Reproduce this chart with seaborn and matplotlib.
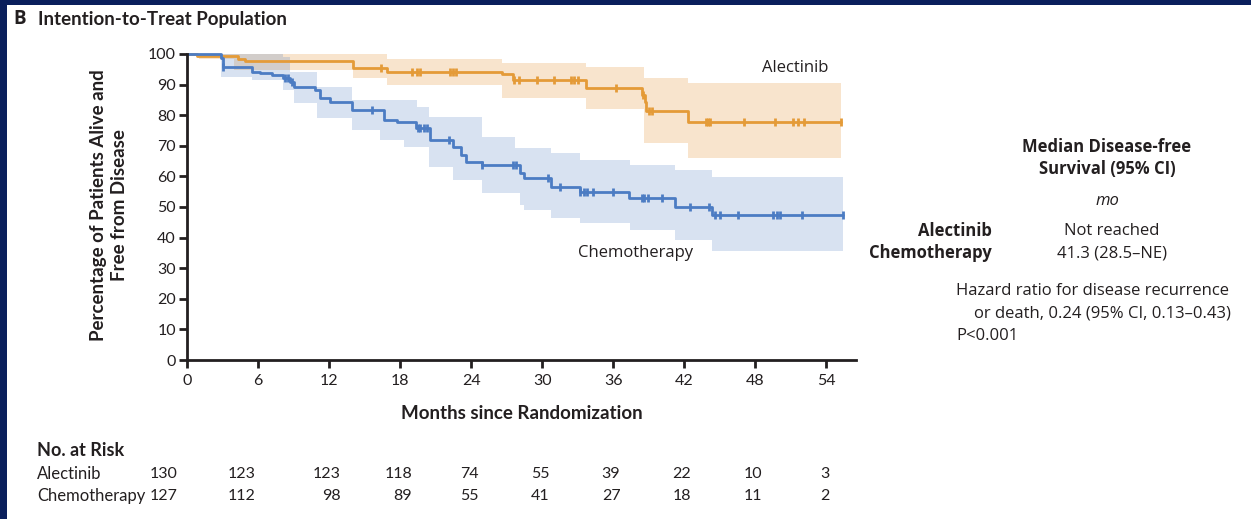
import numpy as np
import pandas as pd
import matplotlib
matplotlib.use("Agg")
import matplotlib.pyplot as plt
import matplotlib.transforms as mtransforms
from matplotlib.patches import Rectangle
import seaborn as sns

# ---- Kaplan-Meier step curves (months, % alive and disease-free) ----
alec_t = [0, 0.85, 4.3, 4.9, 14.0, 16.9, 26.6, 27.5, 33.7, 38.4, 38.7, 38.8, 42.3, 55.2]
alec_s = [100, 99.2, 98.4, 97.6, 95.3, 94.2, 93.3, 91.5, 88.8, 86.6, 84.4, 81.4, 77.9, 77.9]
alec_cens = [16.4, 19.0, 19.4, 19.7, 22.2, 22.5, 22.7, 27.6, 28.0, 29.6, 31.0, 32.4, 32.7,
             33.0, 36.2, 38.5, 39.0, 39.3, 43.8, 44.0, 44.2, 47.0, 49.7, 51.2, 51.6, 52.1, 55.2]

chemo_t = [0, 2.9, 3.0, 5.5, 6.2, 7.15, 8.1, 8.7, 9.0, 10.8, 11.2, 12.1, 13.9, 16.6, 17.7,
           19.3, 20.5, 22.5, 23.1, 23.6, 24.9, 28.1, 28.5, 30.7, 33.2, 37.3, 41.2, 44.3, 55.4]
chemo_s = [100, 98.6, 95.9, 94.2, 93.7, 93.1, 92.0, 90.9, 89.3, 88.2, 85.5, 84.4, 81.7, 78.4, 77.9,
           75.7, 71.9, 69.7, 67.0, 64.8, 63.7, 61.0, 59.4, 56.6, 55.0, 52.8, 50.1, 47.5, 47.5]
chemo_cens = [3.0, 8.3, 8.5, 8.9, 15.6, 19.5, 19.7, 20.0, 20.3, 22.1, 24.9, 27.5, 27.8, 30.5,
              31.5, 33.2, 33.5, 33.8, 34.3, 36.0, 38.4, 38.6, 38.9, 40.1, 42.5, 44.1, 44.6,
              45.0, 46.5, 49.5, 49.8, 50.1, 51.9, 55.4]

# ---- 95% confidence bands ----
alec_ci_t = [0, 1.0, 4.0, 14.0, 16.9, 26.6, 33.7, 38.6, 42.3, 55.2]
alec_ci_hi = [100, 100, 100, 100, 98.3, 97.2, 95.9, 92.0, 90.4, 90.4]
alec_ci_lo = [100, 98.3, 94.8, 92.0, 89.9, 85.5, 81.9, 70.8, 65.9, 65.9]

chemo_ci_t = [0, 2.9, 5.5, 8.1, 8.7, 9.0, 11.0, 13.9, 16.3, 18.3, 19.4, 20.4, 22.5, 24.9,
              27.7, 28.1, 28.5, 30.7, 33.2, 37.4, 41.2, 44.3, 55.4]
chemo_ci_hi = [100, 100, 100, 99.0, 94.2, 94.2, 89.3, 85.0, 85.0, 85.0, 82.8, 79.5, 79.5, 73.0,
               69.2, 69.2, 69.2, 67.5, 65.4, 63.7, 62.1, 59.9, 59.9]
chemo_ci_lo = [100, 92.6, 91.5, 88.2, 88.2, 83.9, 79.0, 75.2, 71.9, 69.7, 69.7, 63.2, 58.8, 54.5,
               54.5, 50.7, 49.0, 46.3, 44.7, 42.5, 39.2, 35.7, 35.7]

# ---- Number at risk ----
risk_months = [0, 6, 12, 18, 24, 30, 36, 42, 48, 54]
risk_alec = [130, 123, 123, 118, 74, 55, 39, 22, 10, 3]
risk_chemo = [127, 112, 98, 89, 55, 41, 27, 18, 11, 2]

groups = ["Alectinib", "Chemotherapy"]
line_colors = {"Alectinib": "#E49B38", "Chemotherapy": "#4C7CC3"}
band_colors = {"Alectinib": (0.90, 0.62, 0.30, 0.28), "Chemotherapy": (0.31, 0.49, 0.76, 0.22)}
ink = "#231F20"

sns.set_theme(style="ticks")
plt.rcParams["font.family"] = ["Open Sans", "DejaVu Sans"]
narrow = ["Lato", "Open Sans", "DejaVu Sans"]

fig = plt.figure(figsize=(12.51, 5.19), dpi=100)
fig.patch.set_facecolor("white")
ax = fig.add_axes([187 / 1251, (519 - 360) / 519, (856 - 187) / 1251, (360 - 50.9) / 519])

# confidence bands
ax.fill_between(alec_ci_t, alec_ci_lo, alec_ci_hi, step="post",
                color=band_colors["Alectinib"], linewidth=0)
ax.fill_between(chemo_ci_t, chemo_ci_lo, chemo_ci_hi, step="post",
                color=band_colors["Chemotherapy"], linewidth=0)

# survival curves
curves = pd.concat([
    pd.DataFrame({"month": alec_t, "pct": alec_s, "arm": "Alectinib"}),
    pd.DataFrame({"month": chemo_t, "pct": chemo_s, "arm": "Chemotherapy"}),
], ignore_index=True)
sns.lineplot(data=curves, x="month", y="pct", hue="arm", palette=line_colors,
             estimator=None, sort=False, drawstyle="steps-post", linewidth=2.0,
             legend=False, ax=ax)

# censoring ticks placed on each curve
def step_value(ts, ss, x):
    idx = np.searchsorted(ts, x, side="right") - 1
    return np.asarray(ss)[idx]

for arm, ts, ss, cens in [("Alectinib", alec_t, alec_s, alec_cens),
                          ("Chemotherapy", chemo_t, chemo_s, chemo_cens)]:
    ax.plot(cens, step_value(ts, ss, np.asarray(cens)), linestyle="none", marker="|",
            markersize=6, markeredgewidth=2.0, color=line_colors[arm])

# axes styling
ax.set_xlim(0, 56.5)
ax.set_ylim(0, 101)
ax.set_xticks(range(0, 55, 6))
ax.set_yticks(range(0, 101, 10))
for side in ["top", "right"]:
    ax.spines[side].set_visible(False)
ax.spines["left"].set_bounds(0, 100)
for side in ["left", "bottom"]:
    ax.spines[side].set_linewidth(2.0)
    ax.spines[side].set_color(ink)
ax.tick_params(axis="both", direction="out", length=6, width=2.0, color=ink,
               labelcolor=ink, labelsize=11.5)
ax.tick_params(axis="x", pad=4)
ax.tick_params(axis="y", pad=2)
for lab in ax.get_xticklabels() + ax.get_yticklabels():
    lab.set_family(narrow)
ax.set_xlabel("Months since Randomization", fontsize=13.5, fontweight="bold",
              color=ink, family=narrow, labelpad=12)
ax.set_ylabel("Percentage of Patients Alive and\nFree from Disease", fontsize=13.5,
              fontweight="bold", color=ink, family=narrow, labelpad=14, linespacing=1.35)
ax.set_facecolor("white")

# curve labels
ax.text(51.4, 95.5, "Alectinib", ha="center", va="center", fontsize=12, color=ink)
ax.text(37.9, 35, "Chemotherapy", ha="center", va="center", fontsize=12, color=ink)

# panel title
fig.text(13 / 1251, 1 - 19 / 519, "B", fontsize=13.5, fontweight="bold", color=ink, va="center")
fig.text(38 / 1251, 1 - 19 / 519, "Intention-to-Treat Population", fontsize=13.5,
         fontweight="bold", color=ink, va="center", family=narrow)

# median summary block
def fx(px):
    return px / 1251

def fy(py):
    return 1 - py / 519

fs = 12
fig.text(fx(1107), fy(158), "Median Disease-free\nSurvival (95% CI)", ha="center",
         va="center", fontsize=fs, fontweight="bold", color=ink, linespacing=1.3)
fig.text(fx(1107), fy(201), "mo", ha="center", va="center", fontsize=fs,
         style="italic", color=ink)
fig.text(fx(992), fy(231), "Alectinib", ha="right", va="center", fontsize=fs,
         fontweight="bold", color=ink)
fig.text(fx(992), fy(253), "Chemotherapy", ha="right", va="center", fontsize=fs,
         fontweight="bold", color=ink)
fig.text(fx(1112), fy(231), "Not reached", ha="center", va="center", fontsize=fs, color=ink)
fig.text(fx(1112), fy(253), "41.3 (28.5\u2013NE)", ha="center", va="center",
         fontsize=fs, color=ink)
fig.text(fx(956), fy(291), "Hazard ratio for disease recurrence", ha="left", va="center",
         fontsize=fs, color=ink)
fig.text(fx(974), fy(313), "or death, 0.24 (95% CI, 0.13\u20130.43)", ha="left",
         va="center", fontsize=fs, color=ink)
fig.text(fx(956), fy(336), "P<0.001", ha="left", va="center", fontsize=fs, color=ink)

# number-at-risk table, aligned under the month axis
risk_tr = mtransforms.blended_transform_factory(ax.transData, fig.transFigure)
col_shift = [-0.8, -0.2, 1.0, 1.0, 0.6, 0.6, 0.6, 0.6, 0.6, 0.3]
fig.text(fx(37), fy(451), "No. at Risk", ha="left", va="center", fontsize=13,
         fontweight="bold", color=ink, family=narrow)
for row_y, name, counts in [(474, "Alectinib", risk_alec), (496, "Chemotherapy", risk_chemo)]:
    fig.text(fx(37), fy(row_y), name, ha="left", va="center", fontsize=12,
             color=ink, family=narrow)
    for m, shift, n in zip(risk_months, col_shift, counts):
        ax.text(m + shift, fy(row_y), str(n), transform=risk_tr, ha="right",
                va="center", fontsize=11.5, color=ink, family=narrow)

# navy frame along the top and left edges
navy = "#0A1F5C"
fig.patches.append(Rectangle((0, 1 - 5 / 519), 1, 5 / 519, transform=fig.transFigure,
                             facecolor=navy, edgecolor="none", zorder=10))
fig.patches.append(Rectangle((0, 0), 7 / 1251, 1, transform=fig.transFigure,
                             facecolor=navy, edgecolor="none", zorder=10))

fig.savefig("out.png", dpi=100, facecolor="white")
